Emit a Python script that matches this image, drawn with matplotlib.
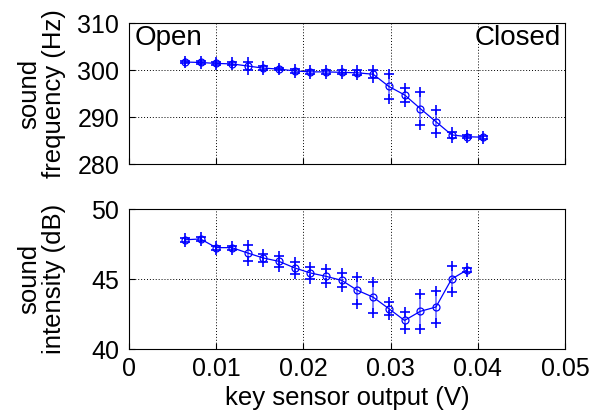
import numpy as np
import matplotlib
matplotlib.use("Agg")
import matplotlib.pyplot as plt

plt.rcParams['font.family'] = ['Liberation Sans', 'DejaVu Sans']

# key sensor output (V)
x_freq = [0.0064, 0.0082, 0.0100, 0.0118, 0.0136, 0.0154, 0.0172, 0.0190, 0.0208, 0.0226,
          0.0244, 0.0262, 0.0280, 0.0298, 0.0316, 0.0334, 0.0352, 0.0370, 0.0388, 0.0406]
freq_mean = [301.7, 301.6, 301.4, 301.3, 300.85, 300.4, 300.2, 299.8, 299.6, 299.6,
             299.5, 299.4, 299.1, 296.5, 294.7, 291.8, 289.0, 286.2, 285.8, 285.7]
freq_std = [0.3, 0.3, 0.3, 0.3, 0.8, 0.4, 0.3, 0.4, 0.4, 0.4,
            0.4, 0.5, 0.85, 2.6, 1.5, 3.6, 2.4, 0.6, 0.3, 0.3]

x_int = x_freq[:19]
int_mean = [47.8, 47.86, 47.24, 47.24, 46.86, 46.5, 46.26, 45.79, 45.43, 45.19,
            44.9, 44.19, 43.7, 42.88, 42.04, 42.69, 43.0, 45.0, 45.66]
int_std = [0.15, 0.15, 0.15, 0.15, 0.6, 0.3, 0.38, 0.42, 0.44, 0.5,
           0.5, 0.98, 1.1, 0.45, 0.58, 1.25, 1.15, 0.96, 0.15]

blue = '#0000ff'

fig = plt.figure(figsize=(5.93, 4.15), dpi=100)
ax1 = fig.add_axes([129 / 593, 1 - 164 / 415, 436 / 593, 141 / 415])
ax2 = fig.add_axes([129 / 593, 1 - 349 / 415, 436 / 593, 140 / 415])


def draw(ax, x, m, s):
    x = np.asarray(x)
    m = np.asarray(m)
    s = np.asarray(s)
    ax.vlines(x, m - s, m + s, color=blue, lw=1.4, alpha=0.5)
    ax.plot(x, m + s, '+', color=blue, ms=7, mew=1.2)
    ax.plot(x, m - s, '+', color=blue, ms=7, mew=1.2)
    ax.plot(x, m, '-o', color=blue, lw=0.9, ms=5, mfc='none', mew=0.9)


draw(ax1, x_freq, freq_mean, freq_std)
draw(ax2, x_int, int_mean, int_std)

for ax in (ax1, ax2):
    ax.set_xlim(0, 0.05)
    ax.set_xticks([0, 0.01, 0.02, 0.03, 0.04, 0.05])
    ax.grid(True, ls=(0, (1, 2)), color='black', lw=0.7)
    ax.tick_params(direction='in', length=4, labelsize=18, width=0.8)
    ax.tick_params(axis='y', pad=7)
    for sp in ax.spines.values():
        sp.set_linewidth(0.8)

ax1.set_ylim(280, 310)
ax1.set_yticks([280, 290, 300, 310])
ax1.tick_params(labelbottom=False)
ax1.set_ylabel('sound\nfrequency (Hz)', fontsize=18.5, linespacing=1.0)
ax1.text(0.012, 0.985, 'Open', transform=ax1.transAxes, ha='left', va='top', fontsize=20)
ax1.text(0.99, 0.985, 'Closed', transform=ax1.transAxes, ha='right', va='top', fontsize=20)

ax2.set_ylim(40, 50)
ax2.set_yticks([40, 45, 50])
ax2.set_xticklabels(['0', '0.01', '0.02', '0.03', '0.04', '0.05'])
ax2.tick_params(axis='x', pad=6)
ax2.set_xlabel('key sensor output (V)', fontsize=18.5, labelpad=3)
ax2.set_ylabel('sound\nintensity (dB)', fontsize=18.5, linespacing=1.0)

ax1.yaxis.set_label_coords(-0.145, 0.5)
ax2.yaxis.set_label_coords(-0.145, 0.5)

fig.savefig('out.png', dpi=100)
